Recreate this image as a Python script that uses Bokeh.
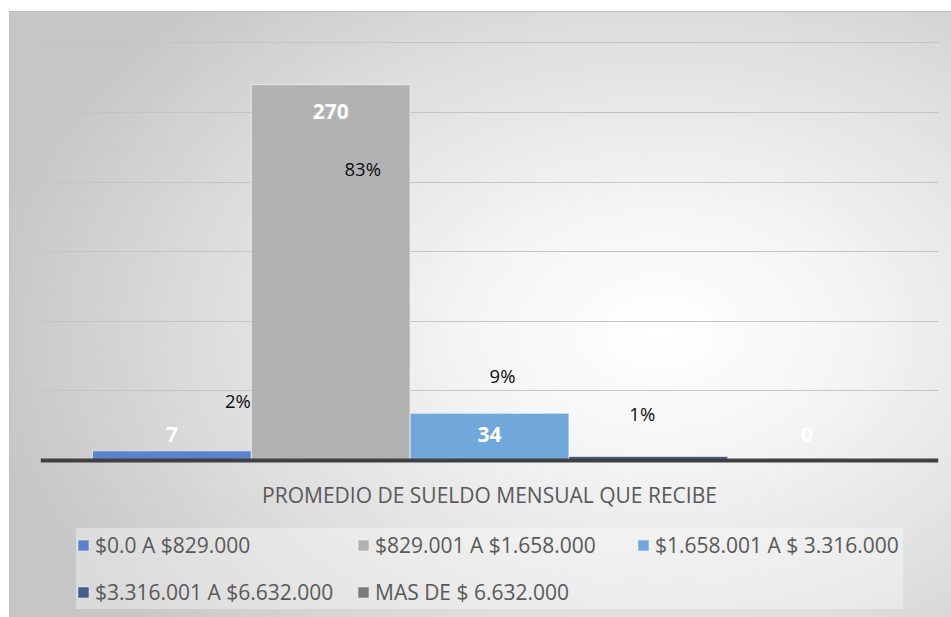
from bokeh.plotting import figure
from bokeh.models import (ColumnDataSource, Range1d, FixedTicker, Span,
                          Legend, LegendItem)
from bokeh.core.properties import value
from bokeh.embed import file_html
from bokeh.resources import INLINE

# ---- data ----
categories = ["$0.0 A $829.000", "$829.001 A $1.658.000", "$1.658.001 A $ 3.316.000",
              "$3.316.001 A $6.632.000", "MAS DE $ 6.632.000"]
counts = [7, 270, 34, 3, 0]
count_labels = ["7", "270", "34", "", "0"]
percent_labels = ["2%", "83%", "9%", "1%"]
colors = ["#5a82cd", "#b2b2b2", "#70a8dc", "#435d8e", "#7b7b7b"]
axis_title = "PROMEDIO DE SUELDO MENSUAL QUE RECIBE"
y_max = 300
grid_step = 50
grid_ticks = list(range(grid_step, y_max + 1, grid_step))

FONT = "Open Sans"

# layout: value axis 0..300 spans 418 px; room below the axis for title + legend
PX_PER_UNIT = 418 / y_max
BELOW_PX = 158
y_start = -BELOW_PX / PX_PER_UNIT
y_end = y_max + 1
frame_h = round((y_end - y_start) * PX_PER_UNIT)

xs = list(range(len(categories)))
src = ColumnDataSource(dict(x=xs, top=counts, color=colors, label=categories))

p = figure(frame_width=898, frame_height=frame_h, output_backend="svg", toolbar_location=None,
           x_range=Range1d(-0.8275, len(categories) - 1 + 0.8275),
           y_range=Range1d(y_start, y_end),
           min_border_left=30, min_border_right=14, min_border_top=606 - frame_h,
           min_border_bottom=0,
           background_fill_alpha=0, border_fill_alpha=0, outline_line_color=None)

p.styles = {
    "background": "radial-gradient(ellipse 680px 470px at 650px 320px, #ffffff 0%, #f6f6f6 25%, #dedede 65%, #c6c6c6 100%)",
    "border-top": "1px solid #bfbfbf",
    "border-left": "1px solid #bfbfbf",
    "margin-top": "11px",
    "margin-left": "9px",
}

bars = p.vbar(x="x", top="top", bottom=0, width=1.0, source=src, fill_color="color",
              line_color="white", line_alpha=0.6, line_width=1)

# axes / grid
p.yaxis.visible = False
p.xaxis.visible = False
p.xgrid.visible = False
p.ygrid.ticker = FixedTicker(ticks=grid_ticks)
p.ygrid.grid_line_color = "#c4c4c4"
p.ygrid.grid_line_width = 1.2

# category axis line
p.add_layout(Span(location=0, dimension="width", line_color="#404040", line_width=4))

# category axis title
p.text(x=[(len(categories) - 1) / 2], y=[0], text=[axis_title], y_offset=34,
       text_font=value(FONT), text_font_size="21px", text_color="#595959",
       text_align="center", text_baseline="middle")

# value labels (white, bold)
is_top = [c == max(counts) for c in counts]
lab_src = ColumnDataSource(dict(
    x=xs,
    y=[c if t else 0 for c, t in zip(counts, is_top)],
    dy=[27 if t else -26 for t in is_top],
    t=count_labels))
p.text(x="x", y="y", text="t", y_offset="dy", source=lab_src,
       text_font=value(FONT), text_font_size="21px", text_font_style="bold",
       text_color="white", text_align="center", text_baseline="middle")

# percentage labels (black)
pct_dx = [66, 32, 13, -6]
pct_dy = [-50, 84, -38, -43]
pct_src = ColumnDataSource(dict(
    x=xs[:len(percent_labels)], y=counts[:len(percent_labels)],
    dx=pct_dx, dy=pct_dy, t=percent_labels))
p.text(x="x", y="y", text="t", x_offset="dx", y_offset="dy", source=pct_src,
       text_font=value(FONT), text_font_size="18.5px",
       text_color="#0d0d0d", text_align="center", text_baseline="middle")

# legend
items = [LegendItem(label=c, renderers=[bars], index=i) for i, c in enumerate(categories)]
leg = Legend(items=items, location=(36, 9), orientation="horizontal", ncols=3,
             glyph_width=14, glyph_height=14, label_standoff=5, spacing=13,
             label_width=248, label_height=34,
             padding=4, margin=0,
             background_fill_color="white", background_fill_alpha=0.35,
             border_line_color=None,
             label_text_font=FONT, label_text_font_size="21px",
             label_text_color="#595959")
p.add_layout(leg, "center")

open("out.html", "w").write(file_html(p, INLINE))
